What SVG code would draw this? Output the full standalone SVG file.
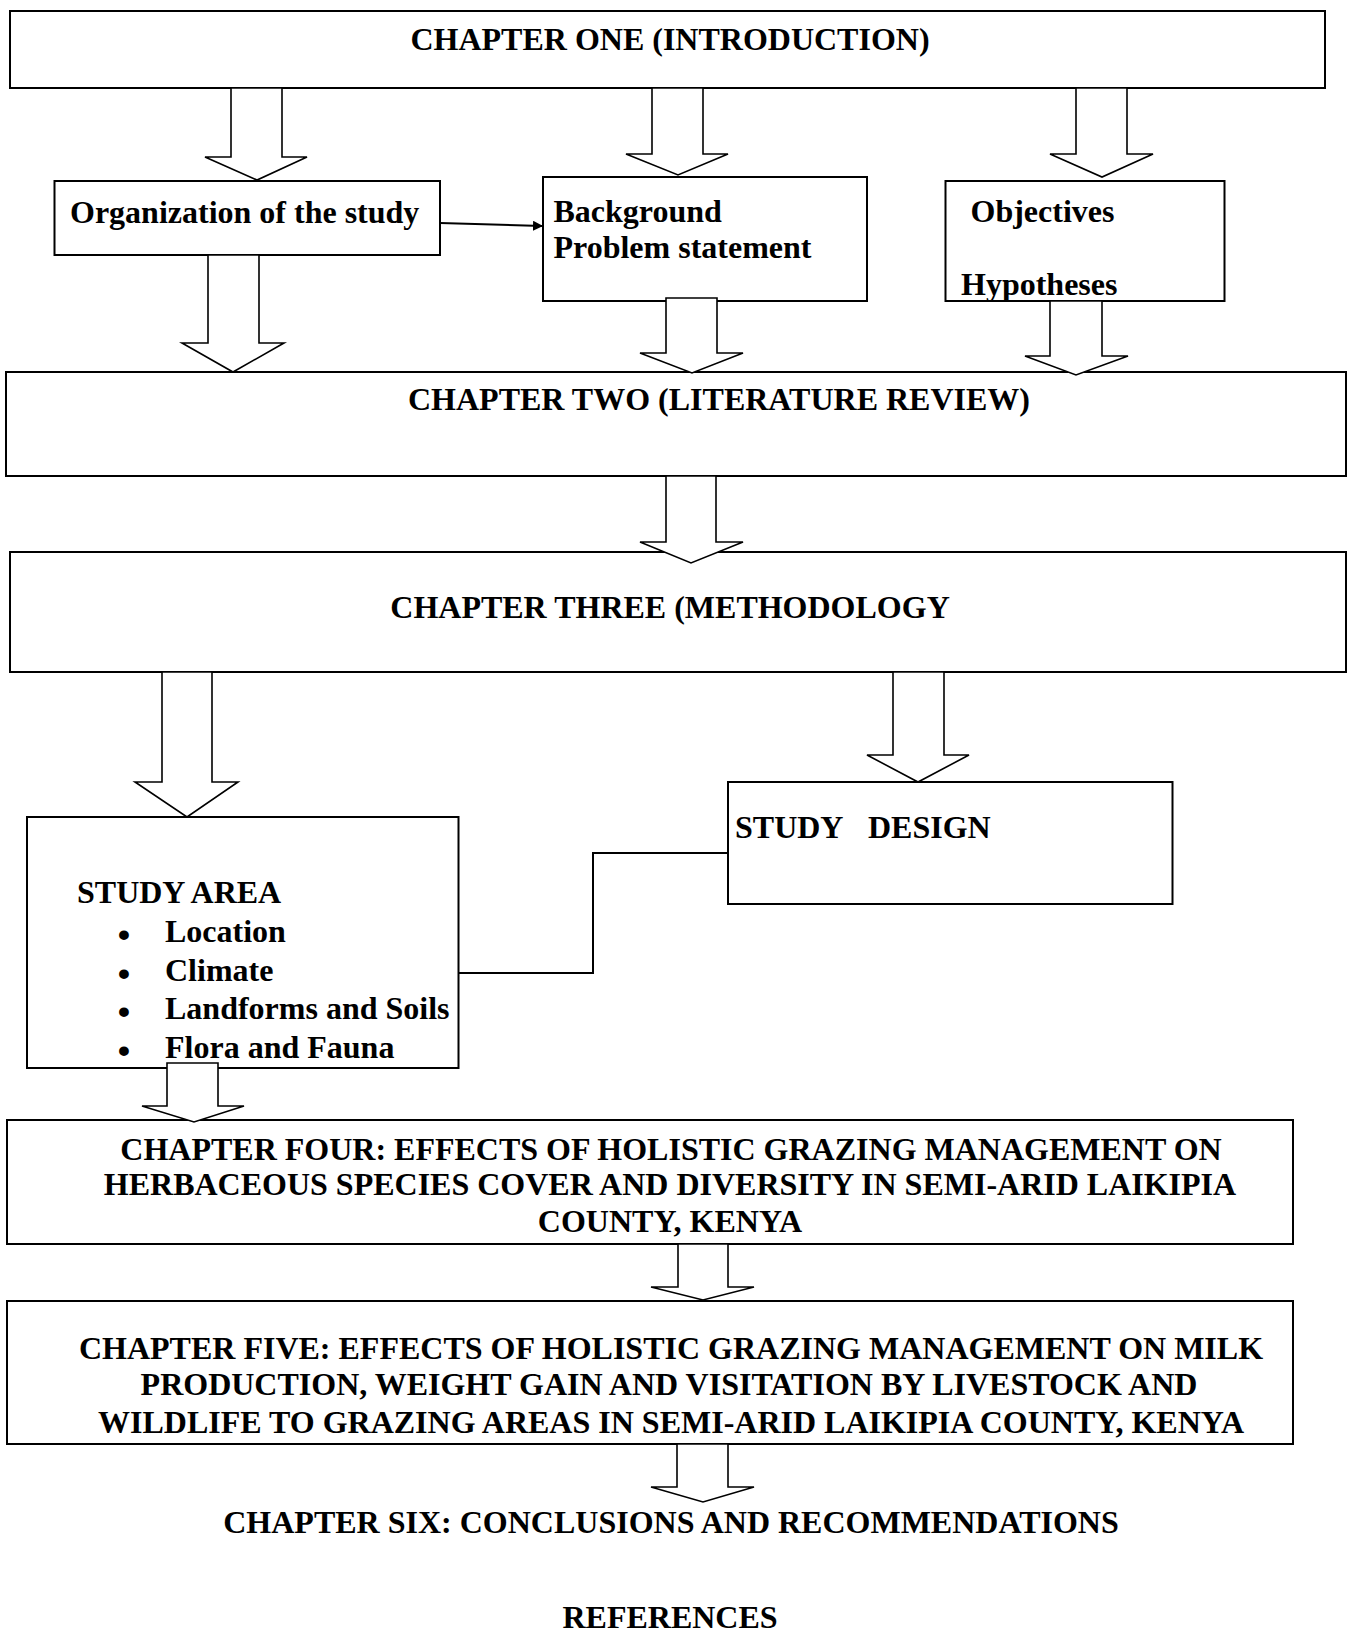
<svg xmlns="http://www.w3.org/2000/svg" width="1352" height="1636" viewBox="0 0 1352 1636">
<style>
.box{fill:#fff;stroke:#000;stroke-width:2}
.blk{fill:#fff;stroke:#000;stroke-width:1.6;stroke-linejoin:miter}
.ln{fill:none;stroke:#000;stroke-width:2}
text{font-family:"Liberation Serif","Times New Roman",serif;font-weight:bold;font-size:32px;fill:#000}
.c{text-anchor:middle}
.bul{font-family:"Liberation Sans",Arial,sans-serif;font-size:34px;text-anchor:middle}
</style>
<defs>
<marker id="tri" markerWidth="10" markerHeight="10" refX="9" refY="5" orient="auto" markerUnits="userSpaceOnUse" viewBox="0 0 10 10">
<path d="M0,0 L10,5 L0,10 z" fill="#000"/>
</marker>
</defs>
<rect width="1352" height="1636" fill="#fff"/>

<g id="ch1"><rect class="box" x="10" y="11" width="1315" height="77"/><text class="c" x="670" y="50">CHAPTER ONE (INTRODUCTION)</text></g>
<g id="org"><rect class="box" x="54.5" y="181" width="385.5" height="74"/><text x="70" y="223">Organization of the study</text></g>
<g id="bg"><rect class="box" x="543" y="177" width="324" height="124"/><text x="553.5" y="222">Background</text><text x="553.5" y="258">Problem statement</text></g>
<g id="obj"><rect class="box" x="945.5" y="181" width="279" height="120"/><text x="970.5" y="222">Objectives</text><text x="961" y="295">Hypotheses</text></g>
<g id="ch2"><rect class="box" x="6" y="372" width="1340" height="104"/><text class="c" x="719" y="410">CHAPTER TWO (LITERATURE REVIEW)</text></g>
<g id="ch3"><rect class="box" x="10" y="552" width="1336" height="120"/><text class="c" x="670" y="618">CHAPTER THREE (METHODOLOGY</text></g>
<g id="area"><rect class="box" x="27" y="817" width="431.5" height="251"/>
<text x="77" y="903">STUDY AREA</text>
<text class="bul" x="124" y="946">•</text><text x="165" y="942">Location</text>
<text class="bul" x="124" y="985">•</text><text x="165" y="981">Climate</text>
<text class="bul" x="124" y="1023">•</text><text x="165" y="1019">Landforms and Soils</text>
<text class="bul" x="124" y="1062">•</text><text x="165" y="1058">Flora and Fauna</text>
</g>
<g id="design"><rect class="box" x="728" y="782" width="444.5" height="122"/><text x="735" y="838">STUDY<tspan x="868">DESIGN</tspan></text></g>
<g id="ch4"><rect class="box" x="7" y="1120" width="1286" height="124"/>
<text class="c" x="671" y="1160">CHAPTER FOUR: EFFECTS OF HOLISTIC GRAZING MANAGEMENT ON</text>
<text class="c" x="670" y="1195">HERBACEOUS SPECIES COVER AND DIVERSITY IN SEMI-ARID LAIKIPIA</text>
<text class="c" x="670" y="1232">COUNTY, KENYA</text></g>
<g id="ch5"><rect class="box" x="7" y="1301" width="1286" height="143"/>
<text class="c" x="671" y="1359">CHAPTER FIVE: EFFECTS OF HOLISTIC GRAZING MANAGEMENT ON MILK</text>
<text class="c" x="669" y="1395">PRODUCTION, WEIGHT GAIN AND VISITATION BY LIVESTOCK AND</text>
<text class="c" x="671" y="1433">WILDLIFE TO GRAZING AREAS IN SEMI-ARID LAIKIPIA COUNTY, KENYA</text></g>
<g id="ch6"><text class="c" x="671" y="1533">CHAPTER SIX: CONCLUSIONS AND RECOMMENDATIONS</text></g>
<g id="refs"><text class="c" x="670" y="1628">REFERENCES</text></g>

<g id="connectors">
<polygon class="blk" points="231,88 231,157 205,157 257,180 307,157 282,157 282,88"/>
<polygon class="blk" points="652,88 652,154 626,154 678,175 728,154 703,154 703,88"/>
<polygon class="blk" points="1076,88 1076,154 1050,154 1102,177 1153,154 1127,154 1127,88"/>
<polygon class="blk" points="208,255 208,343 182,343 233,372 284,343 259,343 259,255"/>
<polygon class="blk" points="666,298 666,353 640,353 692,373 743,353 717,353 717,298"/>
<polygon class="blk" points="1050,301 1050,356 1025,356 1076,375 1128,356 1102,356 1102,301"/>
<polygon class="blk" points="666,476 666,542 640,542 691,563 743,542 716,542 716,476"/>
<polygon class="blk" points="162,672 162,782 135,782 187,817 238,782 212,782 212,672"/>
<polygon class="blk" points="893,672 893,755 867,755 918,782 969,755 944,755 944,672"/>
<polygon class="blk" points="167,1063 167,1106 142,1106 194,1122 244,1106 218,1106 218,1063"/>
<polygon class="blk" points="678,1244 678,1287 651,1287 703,1300 754,1287 728,1287 728,1244"/>
<polygon class="blk" points="677,1444 677,1487 651,1487 703,1502 754,1487 728,1487 728,1444"/>
<line class="ln" x1="440" y1="223" x2="542" y2="226" marker-end="url(#tri)"/>
<polyline class="ln" points="458.5,973 593,973 593,853 728,853"/>
</g>
</svg>
